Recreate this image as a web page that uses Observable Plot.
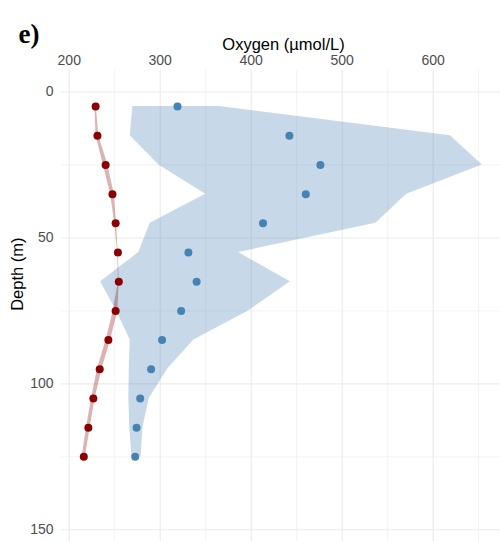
<!DOCTYPE html>
<html>
<head>
<meta charset="utf-8">
<script src="https://cdn.jsdelivr.net/npm/d3@7"></script>
<script src="https://cdn.jsdelivr.net/npm/@observablehq/plot@0.6"></script>
<style>
  html, body { margin: 0; padding: 0; background: #fff; overflow: hidden; }
  #chart svg { display: block; }
</style>
</head>
<body>
<div id="chart"></div>
<script>
// Sampling depths (m)
const depths = [5, 15, 25, 35, 45, 55, 65, 75, 85, 95, 105, 115, 125];

// Oxygen (µmol/L) – blue series: mean with min/max envelope
const blueMean = [319, 442, 476, 460, 413, 331, 340, 323, 302, 290, 278, 274, 272.5];
const blueMin  = [270, 267, 298.5, 350, 289, 276.5, 234.5, 252, 267, 266, 265.5, 266.5, 269];
const blueMax  = [365, 619, 654, 571, 537, 386, 443, 397, 337, 308, 288, 281, 279];

// Oxygen (µmol/L) – red series: mean with min/max envelope
const redMean = [229, 231, 240, 247.5, 251, 253.5, 254.5, 251, 243, 233.5, 226.5, 221, 216];
const redMin  = [228.2, 229.5, 237.5, 245.5, 250, 253.2, 254, 248.5, 240.5, 231, 224.5, 219, 214.2];
const redMax  = [229.8, 232.5, 242.5, 249.5, 252, 253.8, 255, 253.5, 245.5, 236, 228.5, 223, 217.8];

// Axis ticks and grid
const xTicks = [200, 300, 400, 500, 600];
const xMinor = [250, 350, 450, 550, 650];
const yTicks = [0, 50, 100, 150];
const yMinor = [25, 75, 125];

const blue = depths.map((d, i) => ({depth: d, mean: blueMean[i], min: blueMin[i], max: blueMax[i]}));
const red  = depths.map((d, i) => ({depth: d, mean: redMean[i], min: redMin[i], max: redMax[i]}));

const font = "'Liberation Sans', Arial, Helvetica, sans-serif";
const titleSize = 16.5;
const tagSize = 27;

const chart = Plot.plot({
  width: 500,
  height: 541,
  marginTop: 69.6,
  marginLeft: 61,
  marginRight: 0,
  marginBottom: 0,
  style: {fontFamily: font, background: "#fff"},
  x: {domain: [191.5, 674]},
  y: {domain: [-7.5, 154], reverse: true},
  marks: [
    // grid (minor then major)
    Plot.gridX(xMinor, {stroke: "#ebebeb", strokeOpacity: 1, strokeWidth: 0.6}),
    Plot.gridY(yMinor, {stroke: "#ebebeb", strokeOpacity: 1, strokeWidth: 0.6}),
    Plot.gridX(xTicks, {stroke: "#ebebeb", strokeOpacity: 1, strokeWidth: 1.1}),
    Plot.gridY(yTicks, {stroke: "#ebebeb", strokeOpacity: 1, strokeWidth: 1.1}),
    // envelopes
    Plot.areaX(blue, {y: "depth", x1: "min", x2: "max", fill: "steelblue", fillOpacity: 0.3}),
    Plot.areaX(red, {y: "depth", x1: "min", x2: "max", fill: "darkred", fillOpacity: 0.3}),
    // means
    Plot.dot(blue, {x: "mean", y: "depth", r: 4, fill: "steelblue"}),
    Plot.dot(red, {x: "mean", y: "depth", r: 4, fill: "darkred"}),
    // axes
    Plot.axisX(xTicks, {
      anchor: "top", tickSize: 0, tickPadding: 5, fontSize: 14, fill: "#4d4d4d", label: null
    }),
    Plot.axisY(yTicks, {
      anchor: "left", tickSize: 0, tickPadding: 8, fontSize: 14, fill: "#4d4d4d", label: null
    }),
    // axis titles
    Plot.text(["Oxygen (µmol/L)"], {
      frameAnchor: "top", dx: 2.5, dy: 43 - 0.32 * titleSize - 69.6,
      fontSize: titleSize, fill: "#000", text: d => d
    }),
    Plot.text(["Depth (m)"], {
      frameAnchor: "left", dx: -44, dy: 5, rotate: -90,
      fontSize: titleSize, fill: "#000", text: d => d
    }),
    // panel tag
    Plot.text(["e)"], {
      frameAnchor: "top-left", textAnchor: "start", dx: -43, dy: 31.5 - 0.32 * tagSize - 69.6,
      fontSize: tagSize, fontWeight: "bold",
      fontFamily: "'Liberation Serif', 'Times New Roman', serif", fill: "#000", text: d => d
    })
  ]
});

document.getElementById("chart").appendChild(chart);
</script>
</body>
</html>
